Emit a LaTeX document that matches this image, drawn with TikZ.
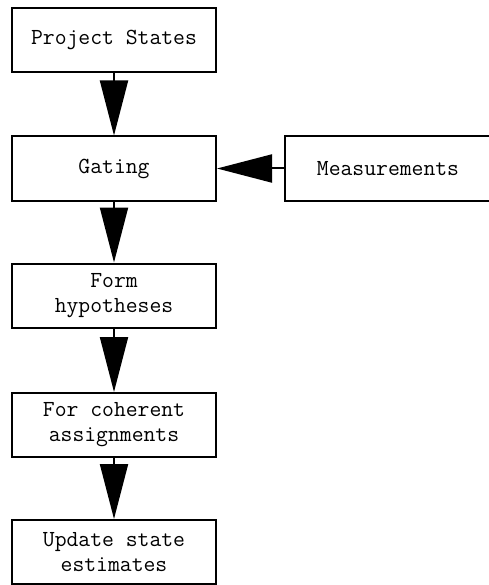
\documentclass[tikz,border=0pt]{standalone}
\usetikzlibrary{arrows.meta}
\begin{document}
\begin{tikzpicture}[x=1pt,y=-1pt,
  stepbox/.style={draw=black,line width=2pt,fill=white,minimum width=204pt,minimum height=64pt,
    inner sep=0pt,align=center,font=\ttfamily\fontsize{23}{25}\selectfont},
  flow/.style={line width=2pt,-{Triangle[length=55pt,width=28pt]}}]
\useasboundingbox (0,0) rectangle (488,585);
\node[stepbox] (ps) at (114,40) {Project States};
\node[stepbox] (gt) at (114,168.5) {Gating};
\node[stepbox] (fh) at (114,295.5) {Form\\hypotheses};
\node[stepbox] (fc) at (114,425) {For coherent\\assignments};
\node[stepbox] (us) at (114,552) {Update state\\estimates};
\node[stepbox,minimum width=206pt] (ms) at (388,168.5) {Measurements};
\draw[flow] (ps.south) -- (gt.north);
\draw[flow] (gt.south) -- (fh.north);
\draw[flow] (fh.south) -- (fc.north);
\draw[flow] (fc.south) -- (us.north);
\draw[flow] (ms.west) -- (gt.east);
\end{tikzpicture}
\end{document}
